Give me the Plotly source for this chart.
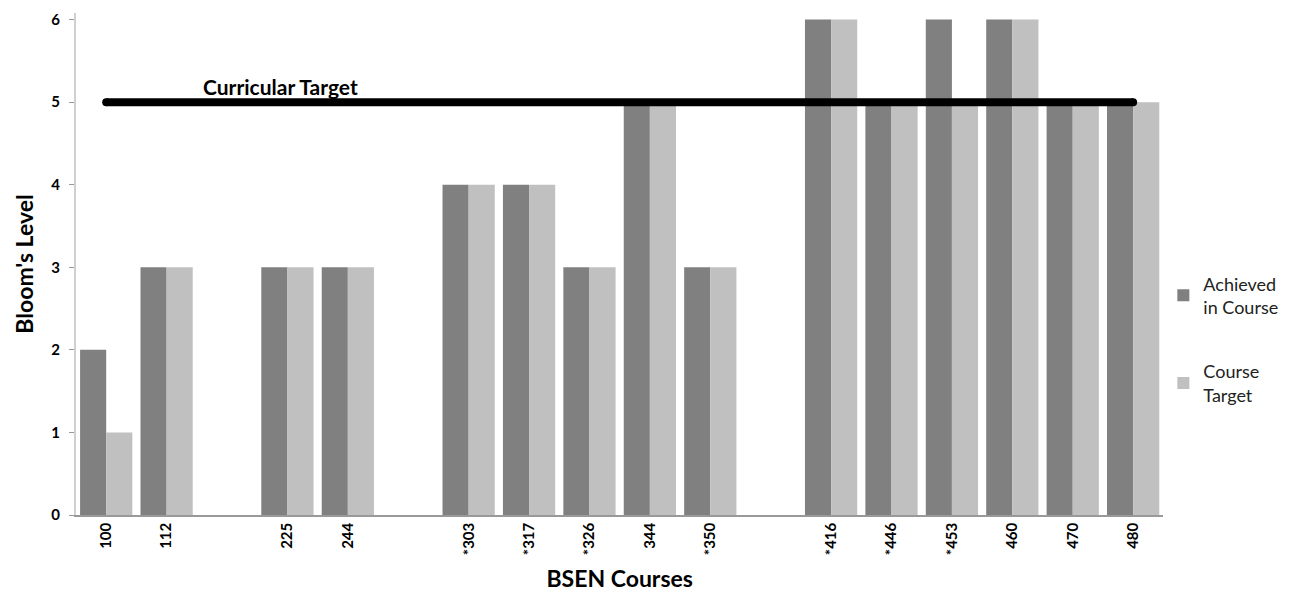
import plotly.graph_objects as go

courses = ["100", "112", "225", "244", "*303", "*317", "*326", "344", "*350",
           "*416", "*446", "*453", "460", "470", "480"]
achieved = [2, 3, 3, 3, 4, 4, 3, 5, 3, 6, 5, 6, 6, 5, 5]
target = [1, 3, 3, 3, 4, 4, 3, 5, 3, 6, 5, 5, 6, 5, 5]
category_order = ["100", "112", " ", "225", "244", "  ", "*303", "*317", "*326", "344", "*350",
                  "   ", "*416", "*446", "*453", "460", "470", "480"]
curricular_target = 5
line_span = [courses[0], courses[-1]]

font = "Lato, 'Open Sans', sans-serif"

fig = go.Figure()
fig.add_trace(go.Bar(x=courses, y=achieved, name="Achieved<br>in Course", legendgroup="a",
                     marker=dict(color="#808080", line=dict(width=0))))
fig.add_trace(go.Bar(x=courses, y=target, name="Course<br>Target", legendgroup="b",
                     marker=dict(color="#c0c0c0", line=dict(width=0))))
fig.add_trace(go.Scatter(x=line_span, y=[curricular_target] * 2, mode="lines+markers",
                         line=dict(color="black", width=8),
                         marker=dict(color="black", size=8),
                         showlegend=False, hoverinfo="skip"))

fig.add_annotation(text="<b>Curricular Target</b>", xref="paper", yref="y",
                   x=0.188, xanchor="center", y=curricular_target, yanchor="bottom", yshift=1,
                   showarrow=False, font=dict(family=font, size=21, color="black"))

# page body has an 8px default margin, so the figure is shrunk by that amount
fig.update_layout(
    width=1283, height=585,
    margin=dict(l=68, r=121, t=5, b=78),
    paper_bgcolor="white", plot_bgcolor="white",
    barmode="group", bargap=0.135, bargroupgap=0,
    font=dict(family=font, color="black"),
    legend=dict(xref="container", x=0.9005, xanchor="left", y=0.35, yanchor="middle",
                font=dict(family=font, size=18, color="#222"),
                tracegroupgap=38, itemwidth=30),
    xaxis=dict(type="category", categoryorder="array", categoryarray=category_order,
               range=[-0.5, len(category_order) - 0.5], automargin=False,
               tickangle=-90, tickfont=dict(family=font, size=15, color="black", weight="bold"),
               showline=True, linecolor="#999", linewidth=1.5, ticks="",
               showgrid=False, zeroline=False,
               title=dict(text="<b>BSEN Courses</b>", font=dict(family=font, size=23), standoff=17)),
    yaxis=dict(range=[0, 6.08], tickvals=[0, 1, 2, 3, 4, 5, 6], automargin=False,
               tickfont=dict(family=font, size=15, color="black", weight="bold"),
               ticks="outside", ticklen=5, tickcolor="#999", ticklabelstandoff=6,
               showline=True, linecolor="#d0d0d0", linewidth=2,
               showgrid=False, zeroline=False,
               title=dict(text="<b>Bloom's Level</b>", font=dict(family=font, size=23), standoff=11)),
)

fig.write_html("out.html")
